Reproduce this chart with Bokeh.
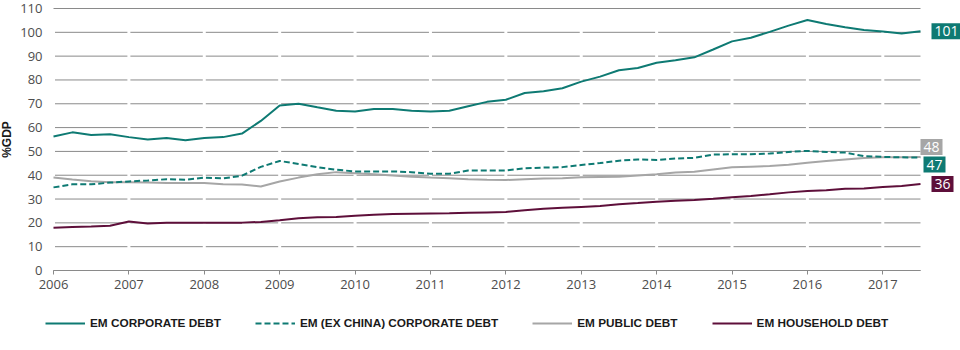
from bokeh.plotting import figure
from bokeh.models import (Range1d, SingleIntervalTicker, Legend, LegendItem, Label,
                          ColumnDataSource)
from bokeh.embed import file_html
from bokeh.resources import INLINE

# ---- data (quarterly, 2006Q1 .. 2017Q3) ----
n_points = 47
start_year = 2006.0
quarters = [start_year + 0.25 * i for i in range(n_points)]

corporate = [56.3, 58.0, 56.9, 57.2,
             56.0, 55.0, 55.6, 54.7,
             55.6, 56.0, 57.5, 62.8,
             69.3, 70.0, 68.5, 67.1,
             66.8, 67.8, 67.8, 67.1,
             66.8, 67.1, 69.0, 70.8,
             71.7, 74.5, 75.3, 76.5,
             79.3, 81.4, 84.1, 85.0,
             87.2, 88.3, 89.5, 92.8,
             96.2, 97.7, 100.2, 102.8,
             105.2, 103.5, 102.1, 101.0,
             100.3, 99.5, 100.4]

ex_china = [34.9, 36.2, 36.2, 36.9,
            37.4, 37.8, 38.3, 38.1,
            39.0, 38.7, 39.8, 43.5,
            46.0, 44.7, 43.4, 42.3,
            41.6, 41.6, 41.6, 41.3,
            40.6, 40.6, 42.0, 42.0,
            42.0, 42.9, 43.2, 43.4,
            44.3, 45.1, 46.1, 46.6,
            46.4, 47.0, 47.3, 48.7,
            48.8, 48.8, 49.1, 49.8,
            50.2, 49.8, 49.5, 48.0,
            47.7, 47.5, 47.4]

public = [39.0, 38.2, 37.5, 37.1,
          37.1, 36.9, 36.7, 36.7,
          36.7, 36.2, 36.1, 35.3,
          37.4, 39.0, 40.4, 41.3,
          40.8, 40.4, 39.9, 39.4,
          39.0, 38.7, 38.3, 38.1,
          38.0, 38.3, 38.6, 38.7,
          39.1, 39.3, 39.4, 39.9,
          40.4, 41.1, 41.5, 42.4,
          43.3, 43.6, 43.9, 44.4,
          45.2, 46.0, 46.6, 47.2,
          47.5, 47.6, 47.7]

household = [18.0, 18.3, 18.5, 18.8,
             20.6, 19.7, 20.0, 20.1,
             20.1, 20.1, 20.1, 20.4,
             21.1, 21.9, 22.4, 22.5,
             23.0, 23.4, 23.7, 23.8,
             23.9, 24.0, 24.2, 24.4,
             24.6, 25.3, 25.9, 26.3,
             26.7, 27.1, 27.8, 28.3,
             28.9, 29.3, 29.6, 30.1,
             30.8, 31.3, 32.0, 32.8,
             33.4, 33.7, 34.3, 34.4,
             35.1, 35.5, 36.3]

series_names = ["EM CORPORATE DEBT", "EM (EX CHINA) CORPORATE DEBT",
                "EM PUBLIC DEBT", "EM HOUSEHOLD DEBT"]
end_labels = ["101", "47", "48", "36"]
y_ticks = list(range(0, 111, 10))
year_ticks = list(range(2006, 2018))

TEAL = "#0e7a73"
GREY = "#a6a6a6"
MAROON = "#5e0f3a"
GRID = "#8a8a8a"

# ---- pixel layout: whole canvas is the frame; axes pinned inside it ----
W, H = 960, 350
DATA_L, DATA_R = 53, 920      # px of first / last quarter
Y_TOP, Y_BOT = 8, 270         # px of 110 / 0
x0, x1 = quarters[0], quarters[-1]
ppx = (DATA_R - DATA_L) / (x1 - x0)
ppy = (Y_BOT - Y_TOP) / (y_ticks[-1] - y_ticks[0])
x_range = Range1d(x0 - DATA_L / ppx, x1 + (W - DATA_R) / ppx)
y_range = Range1d(y_ticks[0] - (H - Y_BOT) / ppy, y_ticks[-1] + Y_TOP / ppy)

p = figure(width=W, height=H, output_backend="svg", toolbar_location=None,
           x_range=x_range, y_range=y_range, min_border=0)
p.outline_line_color = None
p.background_fill_color = "white"
p.border_fill_color = "white"
p.xgrid.grid_line_color = None
p.ygrid.grid_line_color = None

# horizontal grid lines over the data span
hgrid = p.segment(x0=[x0] * len(y_ticks), x1=[x1] * len(y_ticks), y0=y_ticks, y1=y_ticks,
                  line_color=GRID, line_width=1)
hgrid.level = "image"
# white breaks in the grid at each year
vbreak = p.segment(x0=year_ticks, x1=year_ticks,
                   y0=[y_ticks[0] + 5] * len(year_ticks),
                   y1=[y_ticks[-1] - 5] * len(year_ticks),
                   line_color="white", line_width=3)
vbreak.level = "underlay"

# axes, pinned inside the frame
p.xaxis.fixed_location = 0
p.xaxis.ticker = SingleIntervalTicker(interval=1, num_minor_ticks=0)
p.xaxis.bounds = (x0, x1)
p.xaxis.axis_line_color = GRID
p.xaxis.major_tick_line_color = GRID
p.xaxis.major_tick_out = 4
p.xaxis.major_tick_in = 0
p.xaxis.minor_tick_line_color = None
p.xaxis.major_label_standoff = 5
p.xaxis.major_label_text_font = "Open Sans"
p.xaxis.major_label_text_font_size = "13px"
p.xaxis.major_label_text_color = "#4d4d4d"

p.yaxis.fixed_location = x0
p.yaxis.ticker = SingleIntervalTicker(interval=10, num_minor_ticks=0)
p.yaxis.bounds = (y_ticks[0], y_ticks[-1])
p.yaxis.axis_line_color = None
p.yaxis.major_tick_line_color = None
p.yaxis.minor_tick_line_color = None
p.yaxis.major_tick_out = 0
p.yaxis.major_label_standoff = 11
p.yaxis.major_label_text_font = "Open Sans"
p.yaxis.major_label_text_font_size = "13px"
p.yaxis.major_label_text_color = "#4d4d4d"
p.yaxis.axis_label = "%GDP"
p.yaxis.axis_label_text_font = "Liberation Sans"
p.yaxis.axis_label_text_font_style = "bold"
p.yaxis.axis_label_text_font_size = "12px"
p.yaxis.axis_label_text_color = "#1a1a1a"
p.yaxis.axis_label_standoff = 3

src = ColumnDataSource(dict(x=quarters, corp=corporate, exch=ex_china,
                            pub=public, hh=household))

r_pub = p.line("x", "pub", source=src, line_color=GREY, line_width=2)
r_exch = p.line("x", "exch", source=src, line_color=TEAL, line_width=2, line_dash="6 3")
r_hh = p.line("x", "hh", source=src, line_color=MAROON, line_width=2)
r_corp = p.line("x", "corp", source=src, line_color=TEAL, line_width=2)

legend = Legend(items=[LegendItem(label=series_names[0], renderers=[r_corp]),
                       LegendItem(label=series_names[1], renderers=[r_exch]),
                       LegendItem(label=series_names[2], renderers=[r_pub]),
                       LegendItem(label=series_names[3], renderers=[r_hh])],
                orientation="horizontal", location=(45, 17), padding=0, margin=0,
                spacing=34, glyph_width=40, glyph_height=20, label_standoff=5,
                border_line_color=None, background_fill_alpha=0,
                label_text_font="Liberation Sans", label_text_font_style="bold",
                label_text_font_size="11.8px", label_text_color="#1a1a1a")
p.add_layout(legend)

# end-value boxes
last_vals = [corporate[-1], ex_china[-1], public[-1], household[-1]]
box_colors = [TEAL, TEAL, GREY, MAROON]
x_offs = [11, 3, 0, 11]
y_offs = [0, -7, 10, 0]
for txt, val, col, xo, yo in zip(end_labels, last_vals, box_colors, x_offs, y_offs):
    lab = Label(x=x1, y=val, text=txt, x_offset=xo, y_offset=yo,
                text_align="left", text_baseline="middle",
                text_font="Open Sans", text_font_size="14px", text_color="white",
                background_fill_color=col, padding=3)
    p.add_layout(lab)

open("out.html", "w").write(file_html(p, INLINE))
